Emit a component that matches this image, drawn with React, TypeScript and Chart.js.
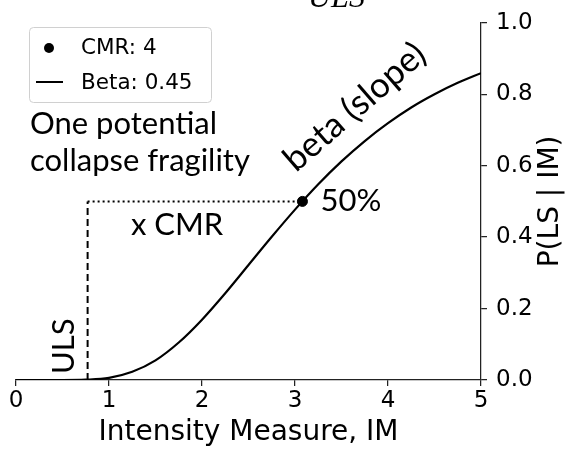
import React, { useEffect, useRef } from 'react';
import { Chart, registerables } from 'chart.js';

Chart.register(...registerables);

// Fragility curve
const IM_VALUES = [0, 0.25, 0.5, 0.75, 1.0, 1.25, 1.5, 1.75, 2.0, 2.25, 2.5, 2.75, 3.0, 3.25, 3.5, 3.75, 4.0, 4.25, 4.5, 4.75, 5.0];
const P_VALUES = [0, 0, 0, 0.001, 0.006, 0.023, 0.055, 0.105, 0.169, 0.243, 0.322, 0.401, 0.477, 0.548, 0.612, 0.669, 0.719, 0.763, 0.8, 0.832, 0.859];

const ULS = 0.77;
const CMR = 4;
const BETA = 0.45;
const MEDIAN_P = 0.5;

const X_TICKS = [0, 1, 2, 3, 4, 5];
const X_TICK_LABELS = ['0', '1', '2', '3', '4', '5'];
const Y_TICKS = [0, 0.2, 0.4, 0.6, 0.8, 1.0];
const Y_TICK_LABELS = ['0.0', '0.2', '0.4', '0.6', '0.8', '1.0'];

const X_TITLE = 'Intensity Measure, IM';
const Y_TITLE = 'P(LS | IM)';
const TOP_TEXT = 'ULS';
const NOTE_LINES = ['One potential', 'collapse fragility'];
const NOTE_CMR = 'x CMR';
const NOTE_50 = '50%';
const NOTE_BETA = 'beta (slope)';
const NOTE_ULS = 'ULS';

const LEGEND_CMR = `CMR: ${CMR}`;
const LEGEND_BETA = `Beta: ${BETA}`;

const TICK_FONT = '"DejaVu Sans", sans-serif';
const NOTE_FONT = 'Lato, "Noto Sans", sans-serif';

export default function App() {
  const ref = useRef<HTMLCanvasElement | null>(null);

  useEffect(() => {
    document.body.style.margin = '0';
    const canvas = ref.current;
    if (!canvas) return;
    const median = ULS * CMR;

    const annotations = {
      id: 'annotations',
      afterDraw(chart: any) {
        const ctx = chart.ctx as CanvasRenderingContext2D;
        const xs = chart.scales.x;
        const ys = chart.scales.y;
        const ca = chart.chartArea;
        ctx.save();
        ctx.fillStyle = '#000';

        // top cropped text
        ctx.font = 'italic 32px "Liberation Serif", serif';
        ctx.textAlign = 'left';
        ctx.textBaseline = 'alphabetic';
        ctx.fillText(TOP_TEXT, 308, 7);

        // axis titles
        ctx.font = `28px ${TICK_FONT}`;
        ctx.textAlign = 'center';
        ctx.textBaseline = 'middle';
        ctx.fillText(X_TITLE, (ca.left + ca.right) / 2, 433);
        ctx.save();
        ctx.translate(551, (ca.top + ca.bottom) / 2);
        ctx.rotate(-Math.PI / 2);
        ctx.fillText(Y_TITLE, 0, 0);
        ctx.restore();

        // notes
        ctx.font = `31px ${NOTE_FONT}`;
        ctx.textAlign = 'left';
        ctx.textBaseline = 'alphabetic';
        ctx.fillText(NOTE_LINES[0], 30, 134);
        ctx.fillText(NOTE_LINES[1], 30, 171);
        ctx.fillText(NOTE_CMR, 131, 235);
        ctx.textBaseline = 'middle';
        ctx.fillText(NOTE_50, xs.getPixelForValue(median) + 18, ys.getPixelForValue(MEDIAN_P));
        ctx.textBaseline = 'alphabetic';
        ctx.save();
        ctx.font = `35px ${NOTE_FONT}`;
        ctx.translate(296, 173);
        ctx.rotate(-41 * Math.PI / 180);
        ctx.fillText(NOTE_BETA, 0, 0);
        ctx.restore();
        ctx.save();
        ctx.translate(74, 374);
        ctx.rotate(-Math.PI / 2);
        ctx.fillText(NOTE_ULS, 0, 0);
        ctx.restore();

        // legend
        const bx = 29.5, by = 27.5, bw = 182, bh = 75, r = 4;
        ctx.beginPath();
        ctx.moveTo(bx + r, by);
        ctx.lineTo(bx + bw - r, by);
        ctx.quadraticCurveTo(bx + bw, by, bx + bw, by + r);
        ctx.lineTo(bx + bw, by + bh - r);
        ctx.quadraticCurveTo(bx + bw, by + bh, bx + bw - r, by + bh);
        ctx.lineTo(bx + r, by + bh);
        ctx.quadraticCurveTo(bx, by + bh, bx, by + bh - r);
        ctx.lineTo(bx, by + r);
        ctx.quadraticCurveTo(bx, by, bx + r, by);
        ctx.closePath();
        ctx.fillStyle = 'rgba(255,255,255,0.8)';
        ctx.fill();
        ctx.strokeStyle = '#d0d0d0';
        ctx.lineWidth = 1;
        ctx.stroke();

        ctx.fillStyle = '#000';
        ctx.beginPath();
        ctx.arc(49, 48, 5, 0, Math.PI * 2);
        ctx.fill();
        ctx.strokeStyle = '#000';
        ctx.lineWidth = 2;
        ctx.beginPath();
        ctx.moveTo(36, 82);
        ctx.lineTo(63, 82);
        ctx.stroke();
        ctx.font = `21.5px ${TICK_FONT}`;
        ctx.textAlign = 'left';
        ctx.textBaseline = 'middle';
        ctx.fillText(LEGEND_CMR, 81, 48);
        ctx.fillText(LEGEND_BETA, 81, 83);

        ctx.restore();
      },
    };

    const chart = new Chart(canvas, {
      type: 'line',
      data: {
        datasets: [
          {
            label: LEGEND_BETA,
            data: IM_VALUES.map((x, i) => ({ x, y: P_VALUES[i] })),
            borderColor: '#000',
            borderWidth: 2.2,
            pointRadius: 0,
            cubicInterpolationMode: 'monotone',
            fill: false,
          },
          {
            label: 'ULS line',
            data: [{ x: ULS, y: 0 }, { x: ULS, y: MEDIAN_P }],
            borderColor: '#000',
            borderWidth: 2,
            borderDash: [7, 4],
            pointRadius: 0,
            fill: false,
          },
          {
            label: 'median line',
            data: [{ x: ULS, y: MEDIAN_P }, { x: median, y: MEDIAN_P }],
            borderColor: '#000',
            borderWidth: 2,
            borderDash: [2, 3],
            pointRadius: 0,
            fill: false,
          },
          {
            label: LEGEND_CMR,
            data: [{ x: median, y: MEDIAN_P }],
            borderColor: '#000',
            backgroundColor: '#000',
            pointRadius: 5,
            showLine: false,
          },
        ],
      },
      options: {
        animation: false,
        responsive: false,
        maintainAspectRatio: false,
        layout: { padding: { left: 16, top: 15, right: 0, bottom: 0 } },
        plugins: { legend: { display: false }, tooltip: { enabled: false }, title: { display: false } },
        scales: {
          x: {
            type: 'linear',
            position: 'bottom',
            min: 0,
            max: 5,
            afterBuildTicks: (s: any) => { s.ticks = X_TICKS.map((v) => ({ value: v })); },
            afterFit: (s: any) => { s.height = 73; },
            ticks: {
              callback: (v: any) => X_TICK_LABELS[X_TICKS.indexOf(Number(v))] ?? '',
              font: { family: TICK_FONT, size: 23 },
              color: '#000',
              padding: 1,
              maxRotation: 0,
            },
            grid: { display: true, drawOnChartArea: false, drawTicks: true, tickLength: 6, color: '#222', lineWidth: 1.25 },
            border: { display: true, color: '#222', width: 1.25 },
          },
          y: {
            type: 'linear',
            position: 'right',
            min: 0,
            max: 1,
            afterBuildTicks: (s: any) => { s.ticks = Y_TICKS.map((v) => ({ value: v })); },
            afterFit: (s: any) => { s.width = 89; },
            ticks: {
              callback: (v: any) => Y_TICK_LABELS[Y_TICKS.findIndex((t) => Math.abs(t - Number(v)) < 1e-9)] ?? '',
              font: { family: TICK_FONT, size: 23 },
              color: '#000',
              padding: 9,
            },
            grid: { display: true, drawOnChartArea: false, drawTicks: true, tickLength: 6, color: '#222', lineWidth: 1.25 },
            border: { display: true, color: '#222', width: 1.25 },
          },
        },
      },
      plugins: [annotations],
    } as any);

    return () => chart.destroy();
  }, []);

  return (
    <div style={{ width: 570, height: 453 }}>
      <canvas ref={ref} width={570} height={453} style={{ display: 'block' }} />
    </div>
  );
}
